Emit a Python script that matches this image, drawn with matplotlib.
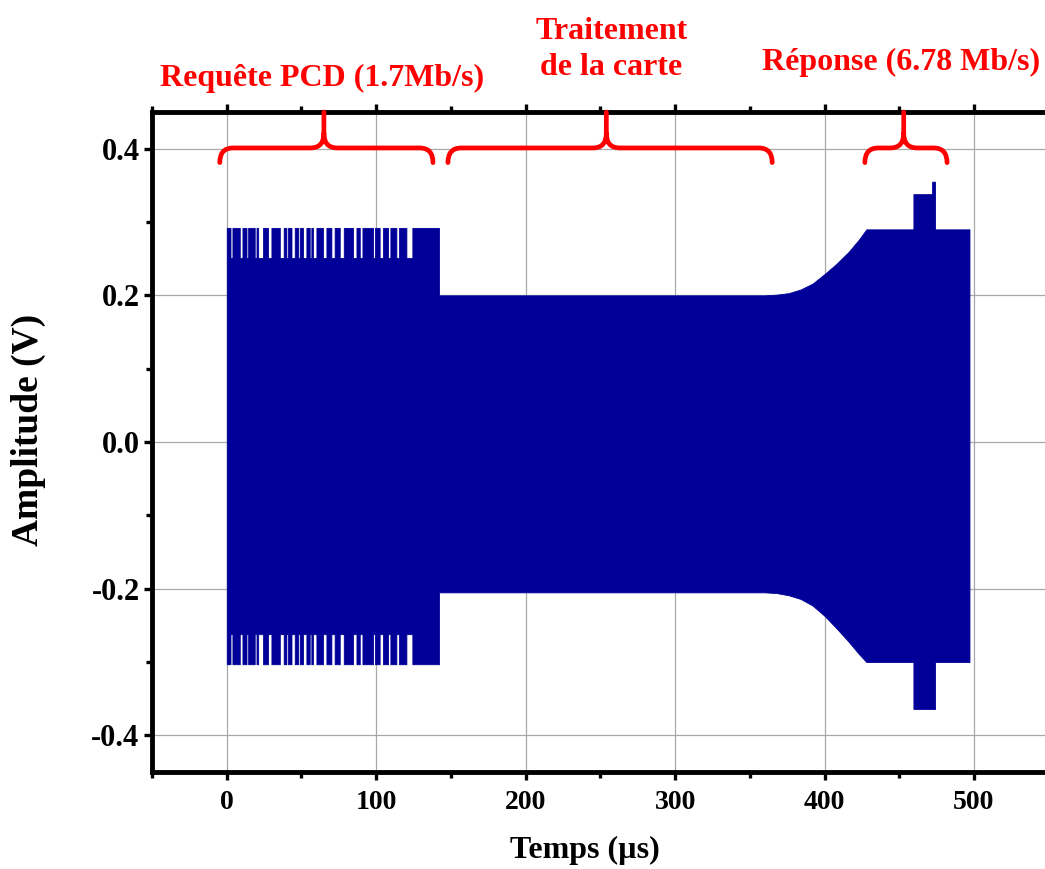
import numpy as np
import matplotlib
matplotlib.use('Agg')
import matplotlib.pyplot as plt
from matplotlib.path import Path
from matplotlib.patches import PathPatch
from matplotlib.ticker import MultipleLocator, FormatStrFormatter

plt.rcParams['font.family'] = ['Liberation Serif', 'DejaVu Serif']
plt.rcParams['font.weight'] = 'bold'
plt.rcParams['axes.unicode_minus'] = False

# Envelope of the 13.56 MHz carrier (time in µs, amplitude in V)
req_end = 142.0
req_hi, req_lo = 0.292, -0.303          # carrier level during PCD request
req_dip_hi, req_dip_lo = 0.251, -0.262  # modulated level (pulses)
dip_start = [2.5, 8.7, 13.2, 18.7, 21.0, 27.6, 35.5, 39.9, 43.3, 47.7, 51.0, 55.5,
             57.7, 64.4, 70.0, 75.6, 84.5, 89.0, 97.9, 102.3, 107.9, 113.5, 120.2]
dip_end = [3.8, 10.5, 14.3, 19.9, 24.3, 29.9, 38.1, 41.0, 45.5, 48.8, 53.3, 56.6,
           60.0, 66.7, 72.2, 78.3, 86.8, 90.8, 99.2, 104.6, 109.5, 115.3, 124.2]

proc_hi, proc_lo = 0.200, -0.205        # card processing
ramp_t = [360, 368, 376, 384, 392, 400, 408, 416, 423, 428]
ramp_hi = [0.200, 0.201, 0.203, 0.208, 0.216, 0.229, 0.243, 0.259, 0.276, 0.290]
ramp_lo = [-0.205, -0.206, -0.209, -0.214, -0.223, -0.237, -0.254, -0.272, -0.289, -0.300]

resp_hi, resp_lo = 0.290, -0.300        # card response
burst_t = [459.5, 474.0]
burst_hi, burst_lo = 0.338, -0.364
spike_t = [472.0, 474.0]
spike_hi = 0.355
sig_end = 497.0

# build the envelope polygon
t, hi, lo = [0.0], [req_hi], [req_lo]
for s, e in zip(dip_start, dip_end):
    t += [s, s, e, e]
    hi += [req_hi, req_dip_hi, req_dip_hi, req_hi]
    lo += [req_lo, req_dip_lo, req_dip_lo, req_lo]
t += [req_end, req_end]
hi += [req_hi, proc_hi]
lo += [req_lo, proc_lo]
t += ramp_t
hi += ramp_hi
lo += ramp_lo
t += [burst_t[0], burst_t[0], spike_t[0], spike_t[0], spike_t[1], spike_t[1], sig_end]
hi += [resp_hi, burst_hi, burst_hi, spike_hi, spike_hi, resp_hi, resp_hi]
lo += [resp_lo, burst_lo, burst_lo, burst_lo, burst_lo, resp_lo, resp_lo]

fig = plt.figure(figsize=(10.45, 8.69), dpi=100)
ax = fig.add_axes([0.1455, 0.1116, 0.858, 0.7595])

ax.fill_between(t, lo, hi, color='#000099', lw=0.6, edgecolor='#000099')

ax.set_xlim(-50, 550)
ax.set_ylim(-0.45, 0.45)
ax.xaxis.set_major_locator(MultipleLocator(100))
ax.xaxis.set_minor_locator(MultipleLocator(50))
ax.yaxis.set_major_locator(MultipleLocator(0.2))
ax.yaxis.set_minor_locator(MultipleLocator(0.1))
ax.yaxis.set_major_formatter(FormatStrFormatter('%.1f'))
ax.grid(True, which='major', color='#a8a8a8', lw=0.9)
ax.set_axisbelow(True)

for side in ['left', 'bottom', 'top']:
    ax.spines[side].set_linewidth(3.5)
ax.spines['right'].set_visible(False)
ax.tick_params(which='both', direction='out', width=2.4, top=True, right=False)
ax.tick_params(which='major', length=6)
ax.tick_params(which='minor', length=4)
ax.tick_params(axis='x', labelsize=20, pad=7)
ax.tick_params(axis='y', labelsize=22, pad=3)
for lab in ax.get_xticklabels() + ax.get_yticklabels():
    lab.set_fontweight('bold')

ax.set_xlabel('Temps (µs)', fontsize=23, fontweight='bold')
ax.set_ylabel('Amplitude (V)', fontsize=27, fontweight='bold')
ax.xaxis.set_label_coords(0.483, -0.097)
ax.yaxis.set_label_coords(-0.118, 0.518)


def brace(x0, x1, xm, y_end=0.381, y_mid=0.401, y_tip=0.45, rx=9.0, ry=0.02):
    verts = [(x0, y_end), (x0, y_mid), (x0 + rx, y_mid),
             (xm - rx, y_mid), (xm, y_mid), (xm, y_mid + ry), (xm, y_tip),
             (xm, y_mid + ry), (xm, y_mid), (xm + rx, y_mid),
             (x1 - rx, y_mid), (x1, y_mid), (x1, y_end)]
    codes = [Path.MOVETO, Path.CURVE3, Path.CURVE3,
             Path.LINETO, Path.CURVE3, Path.CURVE3, Path.LINETO,
             Path.MOVETO, Path.CURVE3, Path.CURVE3,
             Path.LINETO, Path.CURVE3, Path.CURVE3]
    ax.add_patch(PathPatch(Path(verts, codes), fill=False, color='red', lw=3.4,
                           capstyle='round', joinstyle='round', clip_on=False, zorder=5))


brace(-4.7, 138.0, 65.0)
brace(148.0, 365.0, 254.0)
brace(427.0, 482.0, 453.0)

ax.text(63.5, 0.496, 'Requête PCD (1.7Mb/s)', color='red', fontsize=23, fontweight='bold',
        ha='center', va='center', clip_on=False)
ax.text(257.5, 0.535, 'Traitement\nde la carte', color='red', fontsize=23, fontweight='bold',
        ha='center', va='center', linespacing=1.3, clip_on=False)
ax.text(451.5, 0.518, 'Réponse (6.78 Mb/s)', color='red', fontsize=23, fontweight='bold',
        ha='center', va='center', clip_on=False)

fig.savefig('out.png', dpi=100)
